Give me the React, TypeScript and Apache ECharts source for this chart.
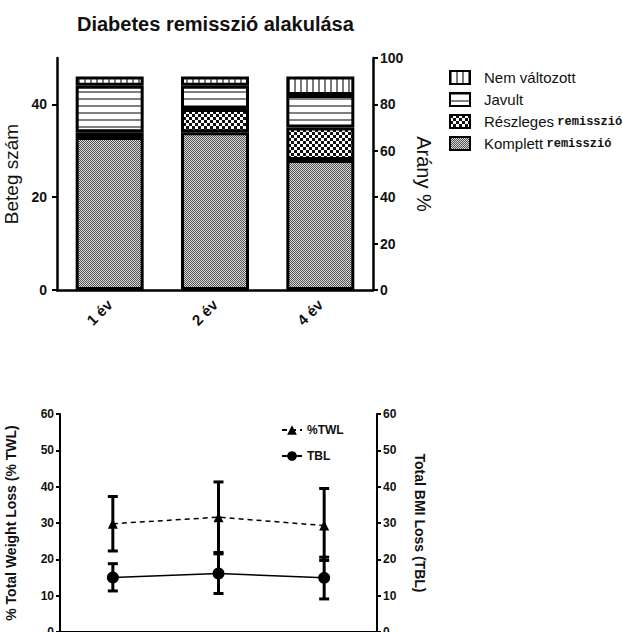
import React, { useEffect, useRef } from 'react';
import * as echarts from 'echarts';

// ---- data (top chart) ----
const years = ['1 év', '2 év', '4 év'];
const komplett = [33, 34, 28];
const reszleges = [1, 5, 7];
const javult = [10, 5, 7];
const nemValtozott = [2, 2, 4];
const legendOrder = ['Nem változott', 'Javult', 'Részleges remisszió', 'Komplett remisszió'];
const leftTicks = [0, 20, 40];

// ---- data (bottom chart) ----
const twlMean = [29.8, 31.6, 29.3];
const twlLow = [22.3, 21.9, 19.7];
const twlHigh = [37.3, 41.3, 39.5];
const tblMean = [15.0, 16.1, 14.9];
const tblLow = [11.3, 10.6, 9.1];
const tblHigh = [18.8, 21.5, 20.6];

const SANS = "'Liberation Sans', Arial, sans-serif";
const NARROW = "'Liberation Sans Narrow', 'Liberation Sans', sans-serif";
const MONO = "'Liberation Mono', 'DejaVu Sans Mono', monospace";

function makePattern(w: number, h: number, draw: (ctx: CanvasRenderingContext2D) => void) {
  const c = document.createElement('canvas');
  c.width = w;
  c.height = h;
  const ctx = c.getContext('2d') as CanvasRenderingContext2D;
  draw(ctx);
  return { image: c, repeat: 'repeat', imageWidth: w, imageHeight: h } as any;
}

export default function App() {
  const ref = useRef<HTMLDivElement>(null);
  useEffect(() => {
    document.body.style.margin = '0';
    if (!ref.current) return;
    const chart = echarts.init(ref.current, undefined, { renderer: 'svg' });

    const pKomplett = makePattern(2, 2, (ctx) => {
      ctx.fillStyle = '#d8d8d8';
      ctx.fillRect(0, 0, 2, 2);
      ctx.fillStyle = '#555';
      ctx.fillRect(0, 0, 1, 1);
      ctx.fillRect(1, 1, 1, 1);
    });
    const pReszleges = makePattern(6, 6, (ctx) => {
      ctx.fillStyle = '#fff';
      ctx.fillRect(0, 0, 6, 6);
      ctx.fillStyle = '#111';
      ctx.fillRect(0, 0, 3, 3);
      ctx.fillRect(3, 3, 3, 3);
    });
    const pJavult = makePattern(4, 7, (ctx) => {
      ctx.fillStyle = '#fff';
      ctx.fillRect(0, 0, 4, 7);
      ctx.fillStyle = '#808080';
      ctx.fillRect(0, 0, 4, 2);
    });
    const pNem = makePattern(6, 4, (ctx) => {
      ctx.fillStyle = '#fff';
      ctx.fillRect(0, 0, 6, 4);
      ctx.fillStyle = '#7a7a7a';
      ctx.fillRect(0, 0, 2, 4);
    });

    const barBase = {
      type: 'bar',
      stack: 'total',
      xAxisIndex: 0,
      yAxisIndex: 0,
      barWidth: 68,
    };

    const errRender = (params: any, api: any) => {
      const x = api.value(0);
      const lo = api.coord([x, api.value(1)]);
      const hi = api.coord([x, api.value(2)]);
      const w = 5;
      const st = { stroke: '#000', lineWidth: 3 };
      return {
        type: 'group',
        children: [
          { type: 'line', shape: { x1: lo[0], y1: lo[1], x2: hi[0], y2: hi[1] }, style: st },
          { type: 'line', shape: { x1: lo[0] - w, y1: lo[1], x2: lo[0] + w, y2: lo[1] }, style: st },
          { type: 'line', shape: { x1: hi[0] - w, y1: hi[1], x2: hi[0] + w, y2: hi[1] }, style: st },
        ],
      };
    };

    const topLabel = { fontFamily: SANS, fontWeight: 'bold', fontSize: 14, color: '#111' };
    const botLabel = { fontFamily: SANS, fontWeight: 'bold', fontSize: 12, color: '#111' };

    const option: any = {
      animation: false,
      backgroundColor: '#fff',
      title: {
        text: 'Diabetes remisszió alakulása',
        left: 72,
        top: 9,
        textStyle: { fontFamily: SANS, fontSize: 20, fontWeight: 'bold', color: '#111' },
      },
      grid: [
        { left: 57, top: 58, width: 316, height: 232, outerBoundsMode: 'none', containLabel: false },
        { left: 60, top: 414, width: 317, height: 218, outerBoundsMode: 'none', containLabel: false },
      ],
      xAxis: [
        {
          type: 'category',
          gridIndex: 0,
          data: years,
          axisLine: { lineStyle: { color: '#000', width: 2.5 } },
          axisTick: { alignWithLabel: true, length: 5, lineStyle: { color: '#000', width: 2 } },
          axisLabel: { rotate: 45, margin: 12, fontFamily: SANS, fontWeight: 'bold', fontSize: 15, color: '#111' },
        },
        {
          type: 'category',
          gridIndex: 1,
          data: years,
          axisLine: { lineStyle: { color: '#000', width: 2 } },
          axisTick: { show: false },
          axisLabel: { show: false },
        },
      ],
      yAxis: [
        {
          type: 'value',
          gridIndex: 0,
          min: 0,
          max: 50,
          interval: 20,
          name: 'Beteg szám',
          nameLocation: 'middle',
          nameGap: 34,
          nameTextStyle: { fontFamily: SANS, fontSize: 19, color: '#111' },
          axisLine: { show: true, lineStyle: { color: '#000', width: 2.5 } },
          axisTick: { show: true, length: 5, customValues: leftTicks, lineStyle: { color: '#000', width: 2 } },
          axisLabel: { ...topLabel, margin: 10, customValues: leftTicks },
          splitLine: { show: false },
        },
        {
          type: 'value',
          gridIndex: 0,
          position: 'right',
          min: 0,
          max: 100,
          interval: 20,
          name: 'Arány %',
          nameLocation: 'middle',
          nameRotate: -90,
          nameGap: 33,
          nameTextStyle: { fontFamily: SANS, fontSize: 20, color: '#111' },
          axisLine: { show: true, lineStyle: { color: '#000', width: 2.5 } },
          axisTick: { show: true, length: 5, lineStyle: { color: '#000', width: 2 } },
          axisLabel: { ...topLabel, margin: 7 },
          splitLine: { show: false },
        },
        {
          type: 'value',
          gridIndex: 1,
          min: 0,
          max: 60,
          interval: 10,
          name: '% Total Weight Loss (% TWL)',
          nameLocation: 'middle',
          nameGap: 42,
          nameTextStyle: { fontFamily: SANS, fontSize: 14, fontWeight: 'bold', color: '#111' },
          axisLine: { show: true, lineStyle: { color: '#000', width: 2 } },
          axisTick: { show: true, length: 4, lineStyle: { color: '#000', width: 2 } },
          axisLabel: { ...botLabel, margin: 6 },
          splitLine: { show: false },
        },
        {
          type: 'value',
          gridIndex: 1,
          position: 'right',
          min: 0,
          max: 60,
          interval: 10,
          name: 'Total BMI Loss (TBL)',
          nameLocation: 'middle',
          nameRotate: -90,
          nameGap: 36,
          nameTextStyle: { fontFamily: SANS, fontSize: 14, fontWeight: 'bold', color: '#111' },
          axisLine: { show: true, lineStyle: { color: '#000', width: 2 } },
          axisTick: { show: true, length: 4, lineStyle: { color: '#000', width: 2 } },
          axisLabel: { ...botLabel, margin: 6 },
          splitLine: { show: false },
        },
      ],
      legend: [
        {
          data: legendOrder,
          left: 444,
          top: 65,
          orient: 'vertical',
          icon: 'rect',
          itemWidth: 20,
          itemHeight: 13,
          itemGap: 7,
          formatter: (name: string) => {
            const i = name.indexOf(' remisszió');
            if (i >= 0) return `{a|${name.slice(0, i)}} {b|remisszió}`;
            return `{a|${name}}`;
          },
          textStyle: {
            padding: [0, 0, 0, 9],
            rich: {
              a: { fontFamily: NARROW, fontSize: 15, color: '#111', lineHeight: 20 },
              b: { fontFamily: MONO, fontSize: 12, fontWeight: 'bold', color: '#111', lineHeight: 20 },
            },
          },
        },
        {
          data: ['%TWL', 'TBL'],
          left: 276,
          top: 419,
          orient: 'vertical',
          itemWidth: 20,
          itemHeight: 12,
          itemGap: 14,
          textStyle: { fontFamily: SANS, fontWeight: 'bold', fontSize: 12, color: '#111' },
        },
      ],
      series: [
        { ...barBase, name: 'Komplett remisszió', data: komplett, itemStyle: { color: pKomplett, borderColor: '#000', borderWidth: 3 } },
        { ...barBase, name: 'Részleges remisszió', data: reszleges, itemStyle: { color: pReszleges, borderColor: '#000', borderWidth: 3 } },
        { ...barBase, name: 'Javult', data: javult, itemStyle: { color: pJavult, borderColor: '#000', borderWidth: 3 } },
        { ...barBase, name: 'Nem változott', data: nemValtozott, itemStyle: { color: pNem, borderColor: '#000', borderWidth: 3 } },
        {
          type: 'custom',
          name: 'twlErr',
          xAxisIndex: 1,
          yAxisIndex: 2,
          renderItem: errRender,
          encode: { x: 0, y: [1, 2] },
          data: years.map((_, i) => [i, twlLow[i], twlHigh[i]]),
          z: 3,
        },
        {
          type: 'custom',
          name: 'tblErr',
          xAxisIndex: 1,
          yAxisIndex: 2,
          renderItem: errRender,
          encode: { x: 0, y: [1, 2] },
          data: years.map((_, i) => [i, tblLow[i], tblHigh[i]]),
          z: 3,
        },
        {
          name: '%TWL',
          type: 'line',
          xAxisIndex: 1,
          yAxisIndex: 2,
          data: twlMean,
          symbol: 'triangle',
          symbolSize: 10,
          lineStyle: { color: '#000', width: 1.5, type: [5, 4] },
          itemStyle: { color: '#000' },
          z: 4,
        },
        {
          name: 'TBL',
          type: 'line',
          xAxisIndex: 1,
          yAxisIndex: 2,
          data: tblMean,
          symbol: 'circle',
          symbolSize: 12,
          lineStyle: { color: '#000', width: 1.5 },
          itemStyle: { color: '#000' },
          z: 4,
        },
      ],
    };
    chart.setOption(option);
    return () => chart.dispose();
  }, []);
  return <div ref={ref} style={{ width: 623, height: 632 }} />;
}
